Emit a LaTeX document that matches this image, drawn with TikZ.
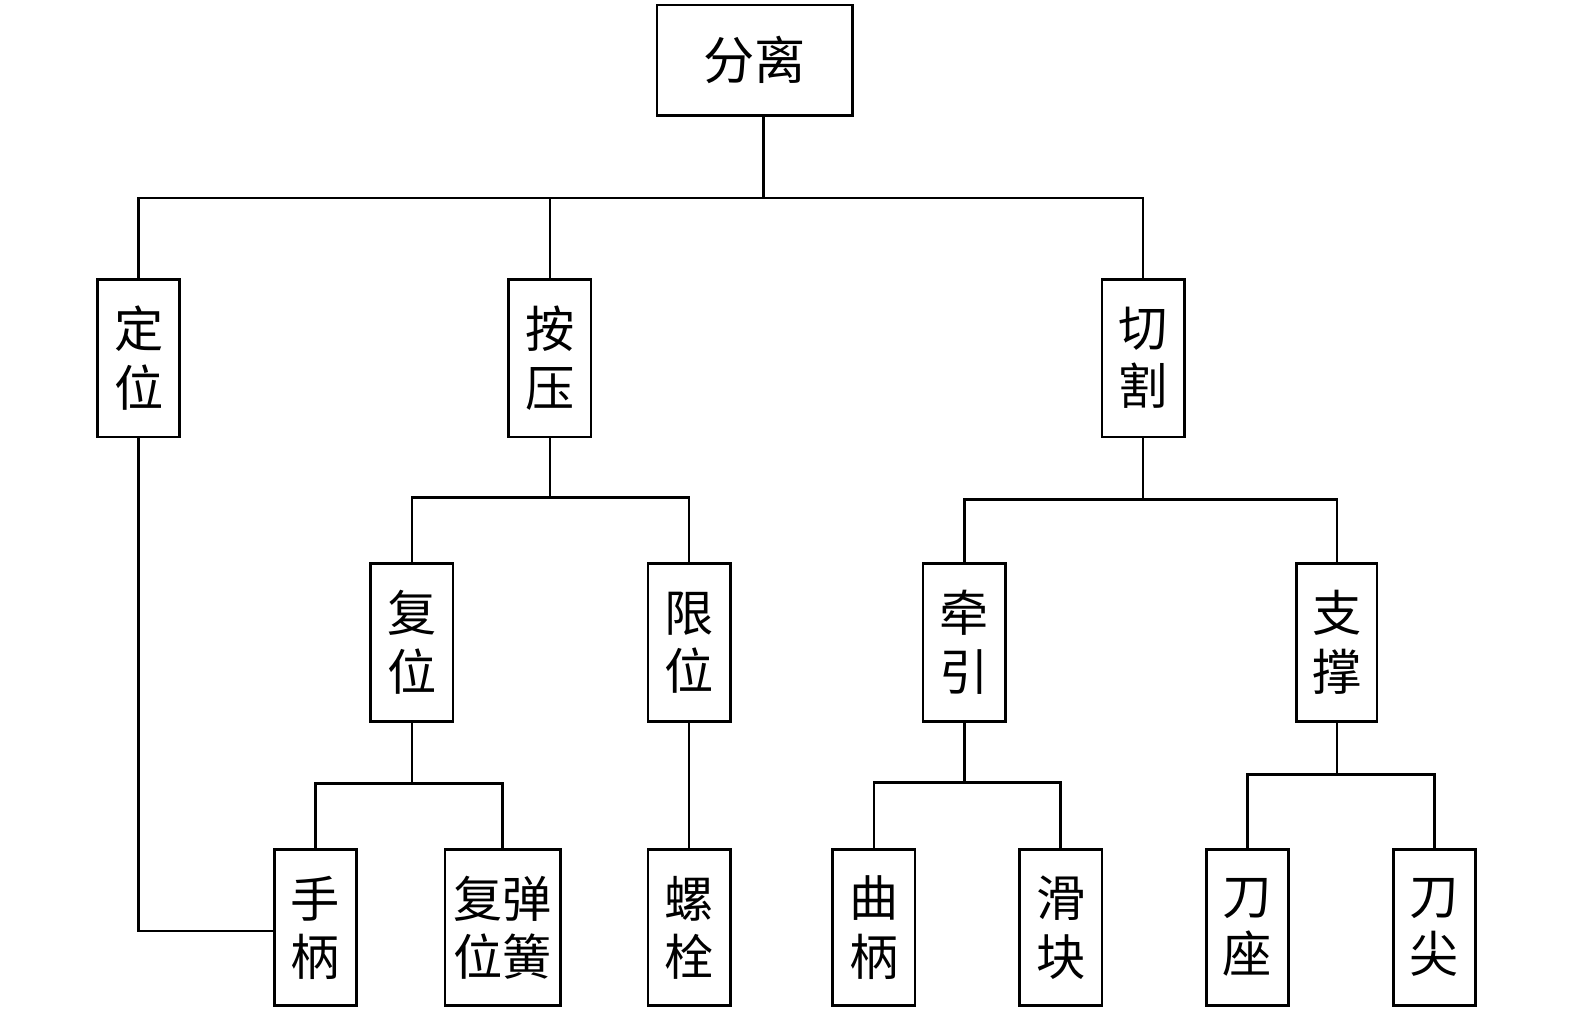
\documentclass[tikz,border=0pt]{standalone}
\usepackage{fontspec}
\setmainfont{Noto Sans CJK SC}
\begin{document}
\begin{tikzpicture}[x=0.5pt,y=-0.5pt,
  bx/.style={draw,line width=1.3pt,inner sep=0pt,minimum width=41pt,minimum height=78.5pt,
    align=center,font=\fontsize{24.5}{29}\selectfont},
  conn/.style={line width=1.3pt}]
\useasboundingbox (0,0) rectangle (1568,1009);
\node[bx,minimum width=97.5pt,minimum height=55pt,font=\fontsize{25.5}{30}\selectfont] (top) at (751.5,60) {分离};
% level 2
\node[bx] (dw) at (138,356.5) {定\\位};
\node[bx] (ay) at (547.5,356.5) {按\\压};
\node[bx] (qg) at (1138,356.5) {切\\割};
% level 3
\node[bx] (fw) at (410,639.5) {复\\位};
\node[bx] (xw) at (686,639.5) {限\\位};
\node[bx] (qy) at (960,639.5) {牵\\引};
\node[bx,minimum width=40pt] (zc) at (1331,639.5) {支\\撑};
% level 4
\node[bx,minimum height=77.5pt] (sb) at (314,923.5) {手\\柄};
\node[bx,minimum height=77.5pt,minimum width=57.5pt] (fwth) at (500.5,923.5) {复弹\\位簧};
\node[bx,minimum height=77.5pt] (ls) at (686,923.5) {螺\\栓};
\node[bx,minimum height=77.5pt] (qb) at (870,923.5) {曲\\柄};
\node[bx,minimum height=77.5pt] (hk) at (1056,923.5) {滑\\块};
\node[bx,minimum height=77.5pt] (dz) at (1242,923.5) {刀\\座};
\node[bx,minimum height=77.5pt] (dj) at (1428,923.5) {刀\\尖};
% bus coordinates
\coordinate (b1) at (0,197);
\coordinate (b2) at (0,495);
\coordinate (b3) at (0,497);
\coordinate (b4) at (0,780);
\coordinate (b5) at (0,779);
\coordinate (b6) at (0,771);
\coordinate (tops) at ([xshift=4.25pt]top.south);
\coordinate (sbw) at ([yshift=-1.75pt]sb.west);
% connectors
\draw[conn] (tops) -- (tops |- b1);
\draw[conn] (dw.north) -- (dw.north |- b1) -- (qg.north |- b1) -- (qg.north);
\draw[conn] (ay.north) -- (ay.north |- b1);
\draw[conn] (ay.south) -- (ay.south |- b2);
\draw[conn] (fw.north) -- (fw.north |- b2) -- (xw.north |- b2) -- (xw.north);
\draw[conn] (qg.south) -- (qg.south |- b3);
\draw[conn] (qy.north) -- (qy.north |- b3) -- (zc.north |- b3) -- (zc.north);
\draw[conn] (fw.south) -- (fw.south |- b4);
\draw[conn] (sb.north) -- (sb.north |- b4) -- (fwth.north |- b4) -- (fwth.north);
\draw[conn] (xw.south) -- (ls.north);
\draw[conn] (qy.south) -- (qy.south |- b5);
\draw[conn] (qb.north) -- (qb.north |- b5) -- (hk.north |- b5) -- (hk.north);
\draw[conn] (zc.south) -- (zc.south |- b6);
\draw[conn] (dz.north) -- (dz.north |- b6) -- (dj.north |- b6) -- (dj.north);
\draw[conn] (dw.south) |- (sbw);
\end{tikzpicture}
\end{document}
